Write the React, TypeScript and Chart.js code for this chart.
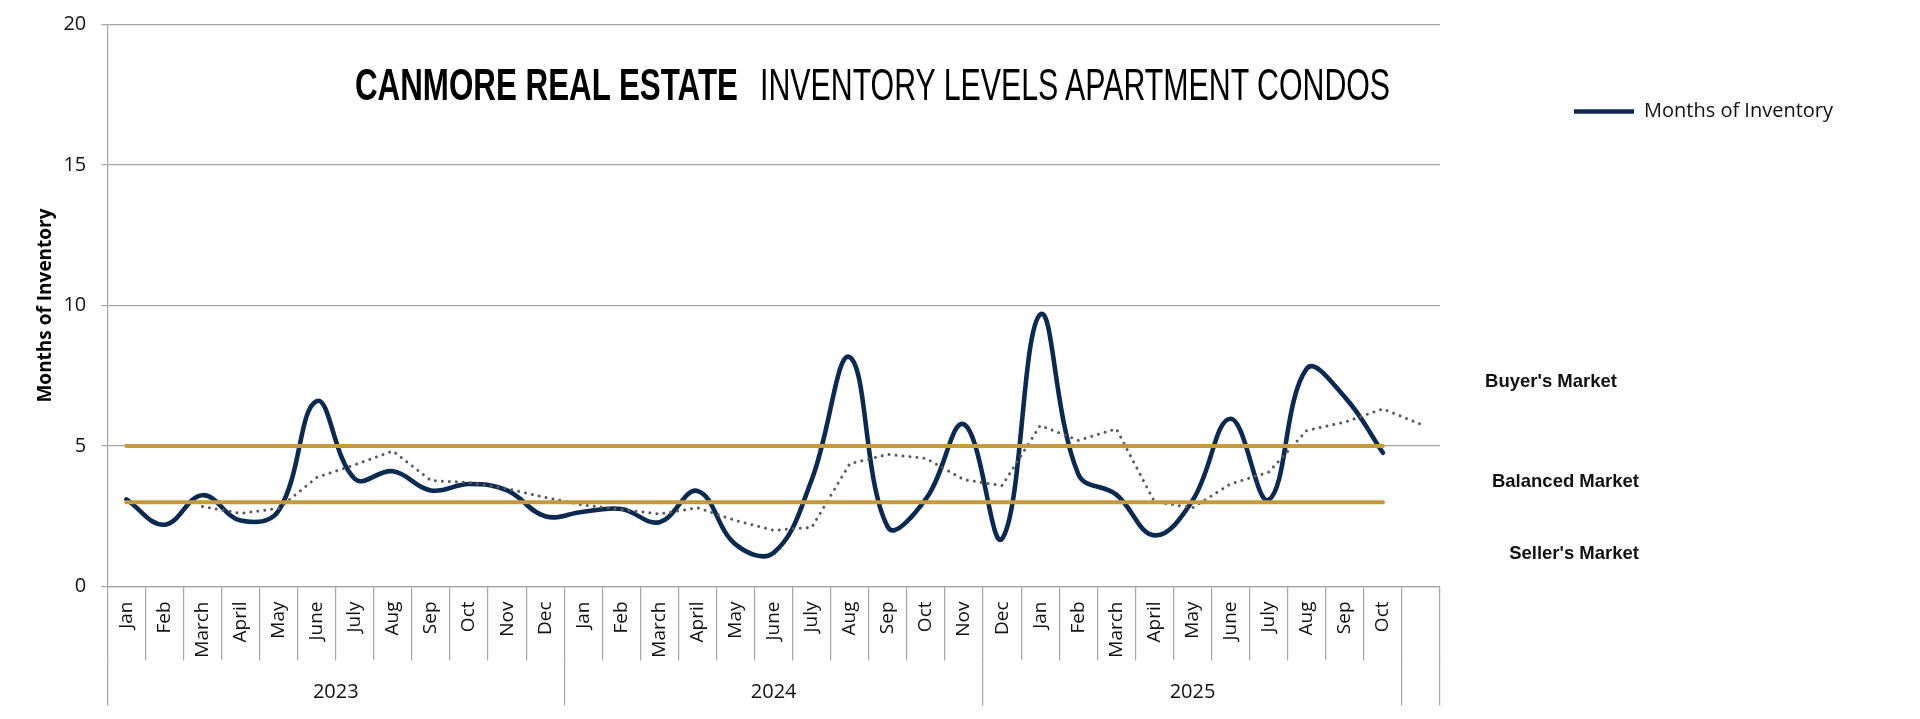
import React, { useEffect, useRef } from 'react';
import Chart from 'chart.js/auto';

// Category axis: month labels (the 2025 group in the source starts with Dec 2024)
const monthLabels = [
  'Jan', 'Feb', 'March', 'April', 'May', 'June', 'July', 'Aug', 'Sep', 'Oct', 'Nov', 'Dec',
  'Jan', 'Feb', 'March', 'April', 'May', 'June', 'July', 'Aug', 'Sep', 'Oct', 'Nov',
  'Dec', 'Jan', 'Feb', 'March', 'April', 'May', 'June', 'July', 'Aug', 'Sep', 'Oct',
  '',
];

// Year groups (index ranges into monthLabels)
const yearGroups = [
  { label: '2023', first: 0, last: 11 },
  { label: '2024', first: 12, last: 22 },
  { label: '2025', first: 23, last: 33 },
  { label: '', first: 34, last: 34 },
];

// Months of inventory (solid navy line)
const monthsOfInventory = [
  3.1, 2.2, 3.25, 2.35, 2.7, 6.6, 3.83, 4.1, 3.42, 3.65, 3.42, 2.5,
  2.66, 2.76, 2.29, 3.4, 1.5, 1.2, 3.8, 8.16, 2.11, 3.12, 5.77,
  1.7, 9.68, 4.0, 3.27, 1.82, 3.06, 5.97, 3.08, 7.75, 6.74, 4.76,
  null,
];

// Moving-average trend (dotted gray line)
const movingAverage = [
  null, null, 2.85, 2.6, 2.78, 3.88, 4.33, 4.82, 3.77, 3.7, 3.48, 3.17,
  2.9, 2.74, 2.58, 2.8, 2.35, 2.0, 2.1, 4.37, 4.7, 4.56, 3.8,
  3.59, 5.73, 5.2, 5.61, 3.02, 2.8, 3.65, 4.07, 5.55, 5.85, 6.32,
  5.77,
];

// Threshold lines (gold)
const buyerLine = [
  5, 5, 5, 5, 5, 5, 5, 5, 5, 5, 5, 5,
  5, 5, 5, 5, 5, 5, 5, 5, 5, 5, 5,
  5, 5, 5, 5, 5, 5, 5, 5, 5, 5, 5,
  null,
];
const sellerLine = [
  3, 3, 3, 3, 3, 3, 3, 3, 3, 3, 3, 3,
  3, 3, 3, 3, 3, 3, 3, 3, 3, 3, 3,
  3, 3, 3, 3, 3, 3, 3, 3, 3, 3, 3,
  null,
];

// Market zone labels on the right (value positions on the y scale)
const upperMarketLabels = ["Buyer's Market"];
const upperMarketLevels = [7.27];
const lowerMarketLabels = ['Balanced Market', "Seller's Market"];
const lowerMarketLevels = [3.71, 1.16];

// Y ticks
const yMin = 0;
const yMax = 20;
const yStep = 5;

const NAVY = '#0B2A52';
const GOLD = '#C49A3C';
const DOTS = '#5A5A5A';
const GRID = '#A6A6A6';
const TEXT = '#111111';

const LEGEND_FONT = { family: 'Open Sans', size: 20 };
const MARKET_FONT = { family: 'Liberation Sans', size: 18.5, weight: 'bold' };

export default function App() {
  const canvasRef = useRef<HTMLCanvasElement | null>(null);

  useEffect(() => {
    const canvas = canvasRef.current;
    if (!canvas) return;

    // layout helpers
    const canvasW = 1904;
    const plotLeft = 99.3;
    const plotRight = 1432;
    const rightAxisW = 124;
    const mctx = document.createElement('canvas').getContext('2d')!;
    mctx.font = `${LEGEND_FONT.size}px "${LEGEND_FONT.family}"`;
    const legendTextW = mctx.measureText('Months of Inventory').width;
    const legendW = legendTextW + 88;
    const padRight = Math.max(0, canvasW - legendW - rightAxisW - plotRight);

    const yearTicks: number[] = [];
    const yearTickLabel = new Map<number, string>();
    const boundaries = new Set<number>();
    yearGroups.forEach((g) => {
      boundaries.add(g.first - 0.5);
      boundaries.add(g.last + 0.5);
    });
    boundaries.forEach((b) => {
      yearTicks.push(b);
      yearTickLabel.set(b, '');
    });
    yearGroups.forEach((g) => {
      if (g.label) {
        const mid = (g.first + g.last) / 2;
        yearTicks.push(mid);
        yearTickLabel.set(mid, g.label);
      }
    });
    yearTicks.sort((a, b) => a - b);

    const noPad = (s: any) => {
      s.paddingTop = 0;
      s.paddingBottom = 0;
      s.paddingLeft = 0;
      s.paddingRight = 0;
    };

    const marketAxis = (levels: number[], labels: string[], padding: number, width: number) => ({
      type: 'linear',
      position: 'right',
      min: yMin,
      max: yMax,
      grid: { display: false, drawTicks: false },
      border: { display: false },
      ticks: {
        mirror: true,
        crossAlign: 'near',
        padding,
        color: TEXT,
        font: MARKET_FONT,
        callback: (v: any) => {
          const i = levels.indexOf(Number(v));
          return i >= 0 ? labels[i] : '';
        },
      },
      afterBuildTicks: (s: any) => {
        s.ticks = levels.map((v) => ({ value: v }));
      },
      afterFit: (s: any) => {
        s.width = width;
        noPad(s);
      },
    });

    const chart = new Chart(canvas, {
      type: 'line',
      data: {
        labels: monthLabels,
        datasets: [
          {
            label: 'Months of Inventory',
            data: monthsOfInventory,
            borderColor: NAVY,
            backgroundColor: NAVY,
            borderWidth: 4.6,
            borderCapStyle: 'round',
            tension: 0.4,
            pointRadius: 0,
            order: 3,
          },
          {
            label: 'Moving Average',
            data: movingAverage,
            borderColor: DOTS,
            borderWidth: 3,
            borderDash: [0.01, 7],
            borderCapStyle: 'round',
            tension: 0,
            pointRadius: 0,
            order: 2,
          },
          {
            label: 'Buyer Threshold',
            data: buyerLine,
            borderColor: GOLD,
            borderWidth: 4,
            borderCapStyle: 'round',
            pointRadius: 0,
            order: 1,
          },
          {
            label: 'Seller Threshold',
            data: sellerLine,
            borderColor: GOLD,
            borderWidth: 4,
            borderCapStyle: 'round',
            pointRadius: 0,
            order: 0,
          },
        ],
      },
      options: {
        animation: false,
        responsive: true,
        maintainAspectRatio: false,
        events: [],
        layout: { padding: { left: 0, right: padRight, top: 16.5, bottom: 8 } },
        plugins: {
          tooltip: { enabled: false },
          title: { display: false },
          legend: {
            display: true,
            position: 'right',
            align: 'start',
            maxWidth: legendW,
            title: {
              display: true,
              text: ' ',
              font: { size: 12, lineHeight: 1 },
              padding: { top: 55, bottom: 0 },
            },
            labels: {
              filter: (item: any) => item.datasetIndex === 0,
              usePointStyle: true,
              pointStyle: 'line',
              pointStyleWidth: 60,
              padding: 10,
              color: TEXT,
              font: LEGEND_FONT,
            },
          },
        },
        scales: {
          x: {
            type: 'category',
            position: 'bottom',
            offset: true,
            weight: 0,
            grid: {
              offset: true,
              drawOnChartArea: false,
              drawTicks: true,
              tickLength: 74,
              color: GRID,
              lineWidth: 1.2,
            },
            border: { display: true, color: GRID, width: 1.2 },
            ticks: {
              autoSkip: false,
              minRotation: 90,
              maxRotation: 90,
              padding: -59,
              color: TEXT,
              font: { family: 'Open Sans', size: 19 },
            },
            afterFit: (s: any) => {
              s.height = 72;
              noPad(s);
            },
          },
          x2: {
            type: 'linear',
            position: 'bottom',
            weight: 1,
            min: -0.5,
            max: monthLabels.length - 0.5,
            grid: {
              drawOnChartArea: false,
              drawTicks: true,
              tickLength: 47,
              lineWidth: 1.2,
              color: (c: any) =>
                c.tick && boundaries.has(c.tick.value) ? GRID : 'rgba(0,0,0,0)',
            },
            border: { display: false },
            ticks: {
              autoSkip: false,
              maxRotation: 0,
              minRotation: 0,
              padding: -25,
              color: TEXT,
              font: { family: 'Open Sans', size: 20 },
              callback: (v: any) => yearTickLabel.get(Number(v)) ?? '',
            },
            afterBuildTicks: (s: any) => {
              s.ticks = yearTicks.map((v) => ({ value: v }));
            },
            afterFit: (s: any) => {
              s.height = 44.5;
              noPad(s);
            },
          },
          y: {
            type: 'linear',
            position: 'left',
            min: yMin,
            max: yMax,
            ticks: {
              stepSize: yStep,
              padding: 15,
              color: TEXT,
              font: { family: 'Open Sans', size: 20 },
            },
            grid: { color: GRID, lineWidth: 1.2, tickLength: 6, drawTicks: true },
            border: { display: true, color: GRID, width: 1.2 },
            title: {
              display: true,
              text: 'Months of Inventory',
              color: '#000',
              font: { family: 'Open Sans', size: 19, weight: 'bold' },
              padding: { top: 26, bottom: 0 },
            },
            afterFit: (s: any) => {
              s.width = plotLeft;
              noPad(s);
            },
          },
          y2: marketAxis(lowerMarketLevels, lowerMarketLabels, 199, rightAxisW),
          y3: marketAxis(upperMarketLevels, upperMarketLabels, 53, 0),
        },
      } as any,
    });

    return () => {
      chart.destroy();
    };
  }, []);

  const titleBase: React.CSSProperties = {
    position: 'absolute',
    top: 54.5,
    fontFamily: '"Liberation Sans", Arial, sans-serif',
    fontSize: 44,
    lineHeight: '44px',
    color: '#000',
    whiteSpace: 'nowrap',
    transformOrigin: '0 0',
    pointerEvents: 'none',
  };

  return (
    <div style={{ position: 'relative', width: 1904, height: 703 }}>
      <canvas ref={canvasRef} />
      <div style={{ ...titleBase, left: 347, fontWeight: 700, transform: 'scaleX(0.712)' }}>
        CANMORE REAL ESTATE
      </div>
      <div style={{ ...titleBase, left: 752, fontWeight: 400, transform: 'scaleX(0.689)' }}>
        INVENTORY LEVELS APARTMENT CONDOS
      </div>
    </div>
  );
}
